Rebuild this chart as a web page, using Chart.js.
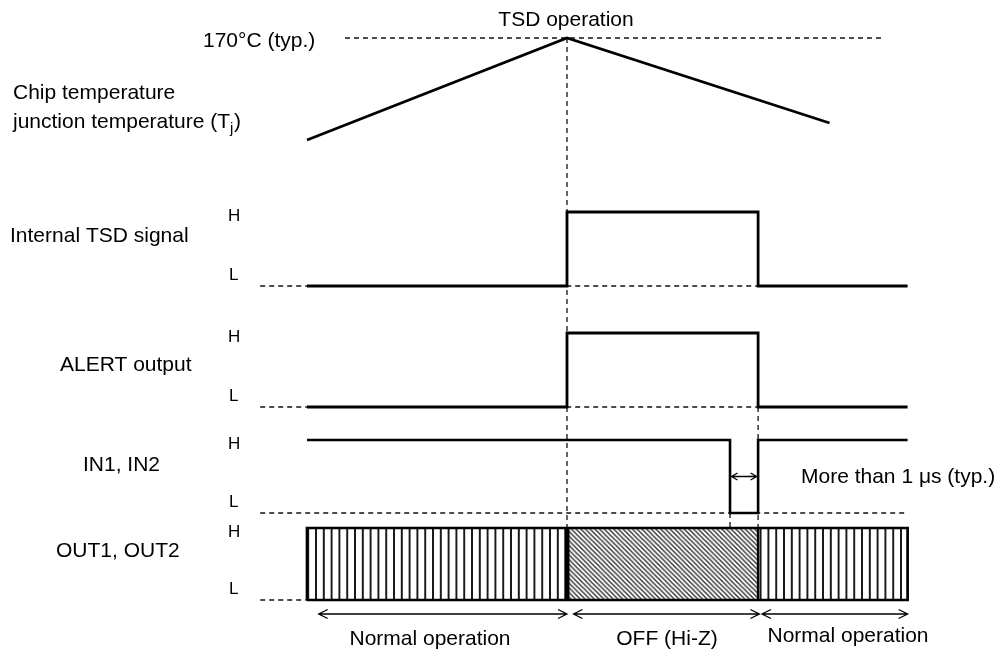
<!DOCTYPE html>
<html>
<head>
<title>TSD timing chart</title>
<script src="https://cdn.jsdelivr.net/npm/chart.js"></script>
<style>
  html, body { margin: 0; padding: 0; background: #fff; }
  .wrap { position: relative; width: 1001px; height: 658px; }
</style>
</head>
<body>
<div class="wrap"><canvas id="chart"></canvas></div>
<script>
// schematic time axis: 0 = start of trace, 10 = TSD trips
const tempTimes = [0, 10, 20.1];
const tempValues = [119, 170, 127.5];      // degC, schematic
const tsdTemp = 170;
const tsdTimes = [0, 10, 17.35, 23.1];
const tsdLevels = [0, 1, 0, 0];
const alertTimes = [0, 10, 17.35, 23.1];
const alertLevels = [0, 1, 0, 0];
const inTimes = [0, 16.27, 17.35, 23.1];
const inLevels = [1, 0, 1, 1];
const outStart = [0, 10, 17.35];
const outEnd = [10, 17.35, 23.1];
const outStates = ['Normal operation', 'OFF (Hi-Z)', 'Normal operation'];
const signalNames = ['Internal TSD signal', 'ALERT output', 'IN1, IN2', 'OUT1, OUT2'];
const levelNames = ['H', 'L'];
const minPulse = [16.27, 17.35];          // IN low, "more than 1 us"
const refStart = -1.8;                    // dashed L reference starts here
const tempRefSpan = [1.46, 22.2];
const arrowSpans = [[0.45, 10], [10.25, 17.4], [17.5, 23.1]];

// layout: pixel rows for each trace
const W = 1001, H = 658;
const rows = {
  yT:     [170, 38, 119, 140],
  yTsd:   [1, 212, 0, 286],
  yAlert: [1, 333, 0, 407],
  yIn:    [1, 440, 0, 513],
  yOut:   [1, 528, 0, 600]
};
function yRange(r) {
  const k = (r[3] - r[1]) / (r[0] - r[2]);
  const max = r[0] + r[1] / k;
  return { min: max - H / k, max: max };
}
function xRange(v1, p1, v2, p2) {
  const k = (p2 - p1) / (v2 - v1);
  const min = v1 - p1 / k;
  return { min: min, max: min + W / k };
}

const FONT = '"Liberation Sans", Arial, sans-serif';

function stripePattern() {
  const c = document.createElement('canvas');
  c.width = 8; c.height = 8;
  const g = c.getContext('2d');
  g.fillStyle = '#fff'; g.fillRect(0, 0, 8, 8);
  g.fillStyle = '#1a1a1a'; g.fillRect(0, 0, 2, 8);
  const p = g.createPattern(c, 'repeat');
  p.setTransform(new DOMMatrix([0.975, 0, 0, 1, 3, 0]));
  return p;
}
function hatchPattern() {
  const s = 5;
  const c = document.createElement('canvas');
  c.width = s; c.height = s;
  const g = c.getContext('2d');
  g.fillStyle = '#fff'; g.fillRect(0, 0, s, s);
  g.strokeStyle = '#333'; g.lineWidth = 1.5;
  g.beginPath();
  g.moveTo(-1, -1); g.lineTo(s + 1, s + 1);
  g.moveTo(-1, s - 1); g.lineTo(1, s + 1);
  g.moveTo(s - 1, -1); g.lineTo(s + 1, 1);
  g.stroke();
  const p = g.createPattern(c, 'repeat');
  p.setTransform(new DOMMatrix([0.94, 0, 0, 0.94, 0, 0]));
  return p;
}

const pts = (ts, vs) => ts.map((t, i) => ({ x: t, y: vs[i] }));
const line = (axis, data, extra) => Object.assign({
  yAxisID: axis, data: data, borderColor: '#000', borderWidth: 2.8,
  pointRadius: 0, fill: false, tension: 0, borderJoinStyle: 'miter', clip: false
}, extra || {});
const dashed = { borderWidth: 1.3, borderDash: [5, 4], borderColor: '#111' };

const fills = outStart.map((s, i) => line('yOut', [{ x: s, y: 1 }, { x: outEnd[i], y: 1 }], {
  borderWidth: 0, borderColor: 'transparent',
  backgroundColor: i === 1 ? hatchPattern() : stripePattern(),
  fill: { value: 0 }
}));
const last = outEnd[outEnd.length - 1];

const datasets = [
  line('yTsd', pts(tsdTimes, tsdLevels), { stepped: true }),
  line('yAlert', pts(alertTimes, alertLevels), { stepped: true }),
  line('yIn', pts(inTimes, inLevels), { stepped: true, borderWidth: 2.6 }),
  line('yT', pts(tempTimes, tempValues)),
  line('yOut', [{ x: outStart[0], y: 0 }, { x: outStart[0], y: 1 }, { x: last, y: 1 },
                { x: last, y: 0 }, { x: outStart[0], y: 0 }], { borderWidth: 2.7 }),
  line('yOut', [{ x: outStart[1], y: 0 }, { x: outStart[1], y: 1 }], { borderWidth: 5 }),
  line('yOut', [{ x: outStart[2], y: 0 }, { x: outStart[2], y: 1 }], { borderWidth: 2.5 }),
  line('yTsd', [{ x: refStart, y: 0 }, { x: last, y: 0 }], dashed),
  line('yAlert', [{ x: refStart, y: 0 }, { x: last, y: 0 }], dashed),
  line('yIn', [{ x: refStart, y: 0 }, { x: last, y: 0 }], dashed),
  line('yOut', [{ x: refStart, y: 0 }, { x: outStart[0], y: 0 }], dashed),
  line('yT', [{ x: tempRefSpan[0], y: tsdTemp }, { x: tempRefSpan[1], y: tsdTemp }], dashed)
].concat(fills);

function dashV(ctx, x, y1, y2) {
  ctx.save();
  ctx.strokeStyle = '#111'; ctx.lineWidth = 1.3; ctx.setLineDash([5, 4]);
  ctx.beginPath(); ctx.moveTo(x, y1); ctx.lineTo(x, y2); ctx.stroke();
  ctx.restore();
}
function arrow(ctx, x1, x2, y, head, spread) {
  ctx.save();
  ctx.strokeStyle = '#000'; ctx.lineWidth = 1.3;
  ctx.beginPath();
  ctx.moveTo(x1, y); ctx.lineTo(x2, y);
  ctx.moveTo(x1 + head, y - spread); ctx.lineTo(x1, y); ctx.lineTo(x1 + head, y + spread);
  ctx.moveTo(x2 - head, y - spread); ctx.lineTo(x2, y); ctx.lineTo(x2 - head, y + spread);
  ctx.stroke();
  ctx.restore();
}
function text(ctx, s, x, y, size, align) {
  ctx.font = size + 'px ' + FONT;
  ctx.textAlign = align || 'left';
  ctx.textBaseline = 'alphabetic';
  ctx.fillStyle = '#000';
  ctx.fillText(s, x, y);
}

const guides = {
  id: 'guides',
  beforeDatasetsDraw(chart) {
    const ctx = chart.ctx, s = chart.scales;
    dashV(ctx, s.x.getPixelForValue(tsdTimes[1]), s.yT.getPixelForValue(tsdTemp), s.yOut.getPixelForValue(1));
    dashV(ctx, s.x.getPixelForValue(alertTimes[2]), s.yAlert.getPixelForValue(0), s.yOut.getPixelForValue(1));
    dashV(ctx, s.x.getPixelForValue(inTimes[1]), s.yIn.getPixelForValue(0), s.yOut.getPixelForValue(1));
  },
  afterDatasetsDraw(chart) {
    const ctx = chart.ctx, s = chart.scales, x = s.x;
    // min pulse arrow and note
    const ym = s.yIn.getPixelForValue(0.5);
    arrow(ctx, x.getPixelForValue(minPulse[0]) + 1.5, x.getPixelForValue(minPulse[1]) - 1.5, ym, 6, 3.5);
    text(ctx, 'More than 1 \u03bcs (typ.)', 801, 483, 21);
    // operating region arrows
    const ya = s.yOut.getPixelForValue(0) + 14;
    arrowSpans.forEach(a => arrow(ctx, x.getPixelForValue(a[0]), x.getPixelForValue(a[1]), ya, 9, 4.5));
    const labelX = [430, 667, 848], labelY = [645, 645, 642];
    outStates.forEach((t, i) => text(ctx, t, labelX[i], labelY[i], 21, 'center'));

    text(ctx, 'TSD operation', x.getPixelForValue(tsdTimes[1]) - 1, 26, 21, 'center');
    text(ctx, '170\u00b0C (typ.)', 203, 47, 21);
    text(ctx, 'Chip temperature', 13, 99, 21);
    text(ctx, 'junction temperature (T', 13, 128, 21);
    let w = ctx.measureText('junction temperature (T').width;
    text(ctx, 'j', 13 + w, 133, 15);
    let wj = ctx.measureText('j').width;
    text(ctx, ')', 13 + w + wj + 0.5, 128, 21);

    const nameX = [10, 60, 83, 56], nameY = [242, 371, 471, 557];
    signalNames.forEach((n, i) => text(ctx, n, nameX[i], nameY[i], 21));
    ['yTsd', 'yAlert', 'yIn', 'yOut'].forEach(id => {
      text(ctx, levelNames[0], 228, s[id].getPixelForValue(1) + 8.5, 17);
      text(ctx, levelNames[1], 229, s[id].getPixelForValue(0) - 6.5, 17);
    });
  }
};

const scales = { x: Object.assign({ type: 'linear', display: false, bounds: 'data' }, xRange(0, 307, 10, 567)) };
Object.keys(rows).forEach(id => {
  scales[id] = Object.assign({ type: 'linear', display: false, bounds: 'data', position: 'left' }, yRange(rows[id]));
});

new Chart(document.getElementById('chart'), {
  type: 'line',
  data: { datasets: datasets },
  options: {
    responsive: true,
    maintainAspectRatio: false,
    animation: false,
    events: [],
    layout: { padding: 0 },
    parsing: true,
    scales: scales,
    plugins: { legend: { display: false }, tooltip: { enabled: false } }
  },
  plugins: [guides]
});
</script>
</body>
</html>
